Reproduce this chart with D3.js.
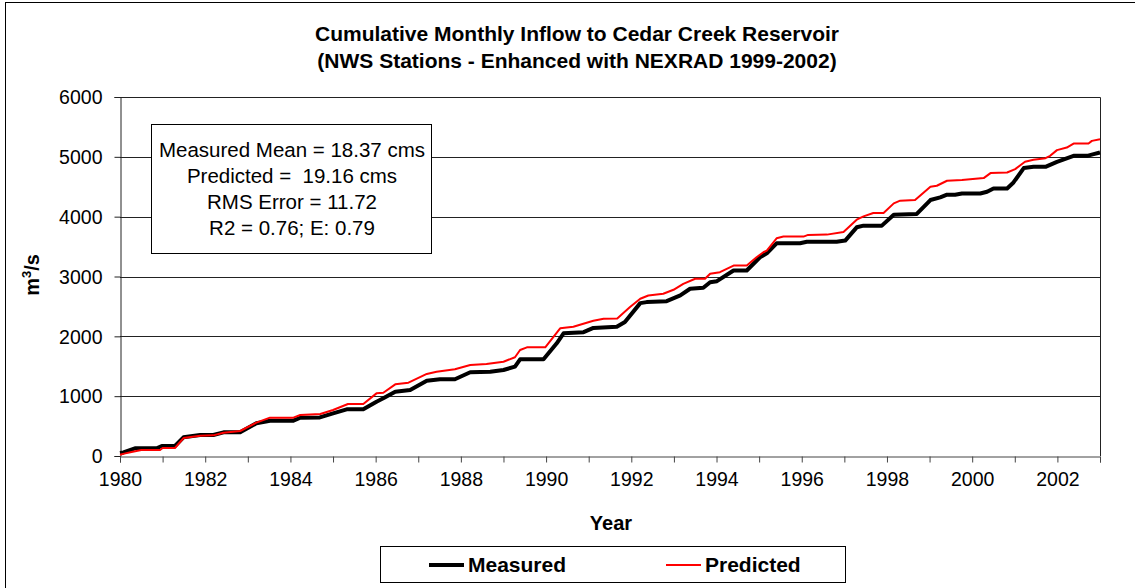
<!DOCTYPE html>
<html>
<head>
<meta charset="utf-8">
<script src="https://cdn.jsdelivr.net/npm/d3@7"></script>
<style>
html,body{margin:0;padding:0;background:#fff;}
svg{display:block;}
text{font-family:"Liberation Sans", Arial, sans-serif;fill:#000;}
</style>
</head>
<body>
<svg id="chart" width="1135" height="588"></svg>
<script>
// ---- data (decimal year, cumulative m3/s) ----
const measured = [
  [1980.0,50],[1980.08,60],[1980.35,128],[1980.86,130],[1980.98,167],[1981.29,167],[1981.49,312],
  [1981.88,351],[1982.19,351],[1982.43,395],[1982.82,395],[1983.2,546],[1983.52,590],[1984.07,590],
  [1984.23,640],[1984.69,645],[1985.0,713],[1985.32,780],[1985.71,780],[1986.02,908],[1986.18,964],
  [1986.46,1075],[1986.81,1103],[1987.2,1259],[1987.51,1282],[1987.86,1282],[1988.22,1399],[1988.69,1409],
  [1989.0,1437],[1989.27,1493],[1989.39,1616],[1989.94,1616],[1990.25,1884],[1990.41,2050],[1990.88,2070],
  [1991.11,2140],[1991.66,2160],[1991.85,2240],[1992.21,2555],[1992.36,2572],[1992.83,2588],[1993.15,2683],
  [1993.38,2795],[1993.69,2812],[1993.85,2905],[1994.01,2922],[1994.40,3100],[1994.71,3100],[1995.02,3322],
  [1995.18,3388],[1995.41,3555],[1995.96,3555],[1996.12,3580],[1996.82,3580],[1997.02,3600],[1997.29,3822],
  [1997.45,3850],[1997.88,3850],[1998.16,4033],[1998.70,4045],[1999.02,4278],[1999.25,4322],[1999.41,4367],
  [1999.60,4367],[1999.76,4388],[2000.19,4388],[2000.35,4417],[2000.50,4472],[2000.82,4472],[2000.97,4572],
  [2001.21,4812],[2001.44,4833],[2001.72,4833],[2001.99,4917],[2002.38,5017],[2002.70,5017],[2002.85,5045],
  [2003.0,5072]
];
const predicted = [
  [1980.0,20],[1980.1,40],[1980.3,72],[1980.5,100],[1980.94,100],[1981.0,134],[1981.29,134],[1981.49,300],
  [1981.88,340],[1982.19,345],[1982.43,390],[1982.82,418],[1983.2,557],[1983.52,641],[1984.07,641],
  [1984.23,685],[1984.7,702],[1985.0,769],[1985.35,869],[1985.71,869],[1986.02,1047],[1986.18,1058],
  [1986.46,1198],[1986.77,1226],[1987.2,1371],[1987.43,1409],[1987.86,1449],[1988.22,1521],[1988.6,1538],
  [1989.0,1576],[1989.27,1650],[1989.39,1772],[1989.55,1816],[1989.98,1816],[1990.33,2134],[1990.64,2161],
  [1991.11,2260],[1991.35,2295],[1991.67,2300],[1991.97,2490],[1992.21,2628],[1992.40,2683],[1992.75,2712],
  [1992.99,2778],[1993.22,2878],[1993.50,2962],[1993.73,2962],[1993.85,3045],[1994.08,3072],[1994.40,3183],
  [1994.71,3183],[1994.94,3322],[1995.10,3405],[1995.18,3433],[1995.41,3638],[1995.57,3667],[1996.04,3667],
  [1996.15,3695],[1996.59,3700],[1996.98,3745],[1997.29,3950],[1997.45,4005],[1997.68,4062],[1997.92,4062],
  [1998.16,4222],[1998.31,4267],[1998.66,4278],[1999.02,4500],[1999.17,4517],[1999.41,4600],[1999.76,4612],
  [2000.27,4645],[2000.43,4728],[2000.82,4738],[2001.01,4795],[2001.24,4917],[2001.44,4950],[2001.72,4978],
  [2001.83,5017],[2001.99,5112],[2002.22,5155],[2002.38,5222],[2002.73,5222],[2002.81,5267],[2003.0,5295]
];
const xTickYears = d3.range(1980, 2004, 1);
const xLabelYears = d3.range(1980, 2003, 2);
const yTicks = [0,1000,2000,3000,4000,5000,6000];
const titleLines = ["Cumulative Monthly Inflow to Cedar Creek Reservoir","(NWS Stations - Enhanced with NEXRAD 1999-2002)"];
const statLines = ["Measured Mean = 18.37 cms","Predicted =  19.16 cms","RMS Error = 11.72","R2 = 0.76; E: 0.79"];
const seriesNames = ["Measured","Predicted"];
const seriesColors = ["#000000","#ff0000"];

// ---- layout ----
const svg = d3.select("#chart");
const L = 120, R = 1100, T = 97, B = 456;
const x = d3.scaleLinear().domain([1980, 2003]).range([L, R]);
const y = d3.scaleLinear().domain([0, 6000]).range([B, T]);

// outer chart border
svg.append("rect").attr("x",5.5).attr("y",2.5).attr("width",1300).attr("height",700)
  .attr("fill","none").attr("stroke","#000").attr("stroke-width",1);

// title
svg.selectAll("text.title").data(titleLines).enter().append("text")
  .attr("class","title").attr("x",577).attr("y",(d,i)=>41+i*27)
  .attr("text-anchor","middle").style("font-size","21px").style("font-weight","bold").text(d=>d);

// grid lines
svg.append("g").selectAll("line").data(yTicks.filter(v=>v>0 && v<6000)).enter().append("line")
  .attr("x1",L).attr("x2",R).attr("y1",d=>Math.round(y(d))+0.5).attr("y2",d=>Math.round(y(d))+0.5)
  .attr("stroke","#222").attr("stroke-width",1);

// plot frame top/right
svg.append("path").attr("d",`M${L},${T+0.5}H${R+0.5}V${B}`).attr("fill","none").attr("stroke","#222").attr("stroke-width",1);

// y axis
const yAxis = d3.axisLeft(y).tickValues(yTicks).tickSize(6).tickPadding(12).tickFormat(d3.format("d"));
const gy = svg.append("g").attr("transform",`translate(${L+0.5},0)`).call(yAxis);
gy.select(".domain").attr("stroke","#222");
gy.selectAll(".tick line").attr("stroke","#222");
gy.selectAll("text").style("font-size","19.5px").attr("font-family",null).attr("dy","0.35em");

// x axis
const xAxis = d3.axisBottom(x).tickValues(xTickYears).tickSize(6).tickPadding(10)
  .tickFormat(d => xLabelYears.includes(d) ? String(d) : "");
const gx = svg.append("g").attr("transform",`translate(0,${B+0.5})`).call(xAxis);
gx.select(".domain").attr("stroke","#444");
gx.selectAll(".tick line").attr("stroke","#444");
gx.selectAll("text").style("font-size","19.5px").attr("font-family",null);

// axis titles
svg.append("text").attr("x",611).attr("y",530).attr("text-anchor","middle")
  .style("font-size","20px").style("font-weight","bold").text("Year");
const yl = svg.append("text").attr("transform","translate(39,275) rotate(-90)").attr("text-anchor","middle")
  .style("font-size","20px").style("font-weight","bold");
yl.append("tspan").text("m");
yl.append("tspan").attr("dy","-8").style("font-size","13px").text("3");
yl.append("tspan").attr("dy","8").text("/s");

// lines
const line = d3.line().x(d=>x(d[0])).y(d=>y(d[1]));
svg.append("path").datum(measured).attr("d",line).attr("fill","none")
  .attr("stroke",seriesColors[0]).attr("stroke-width",4).attr("stroke-linejoin","round");
svg.append("path").datum(predicted).attr("d",line).attr("fill","none")
  .attr("stroke",seriesColors[1]).attr("stroke-width",2).attr("stroke-linejoin","round");

// stats box
svg.append("rect").attr("x",151.5).attr("y",124.5).attr("width",280).attr("height",129)
  .attr("fill","#fff").attr("stroke","#000").attr("stroke-width",1);
svg.selectAll("text.stat").data(statLines).enter().append("text").attr("class","stat")
  .attr("x",292).attr("y",(d,i)=>157+i*26).attr("text-anchor","middle")
  .style("font-size","20.5px").style("white-space","pre").attr("xml:space","preserve").text(d=>d);

// legend
svg.append("rect").attr("x",380.5).attr("y",546.5).attr("width",465).attr("height",36)
  .attr("fill","#fff").attr("stroke","#000").attr("stroke-width",1);
const legX = [429, 666];
const legW = [4, 2];
seriesNames.forEach((name,i)=>{
  svg.append("line").attr("x1",legX[i]).attr("x2",legX[i]+35).attr("y1",565).attr("y2",565)
    .attr("stroke",seriesColors[i]).attr("stroke-width",legW[i]);
  svg.append("text").attr("x",legX[i]+39).attr("y",572).style("font-size",  "21px")
    .style("font-weight","bold").text(name);
});
</script>
</body>
</html>
